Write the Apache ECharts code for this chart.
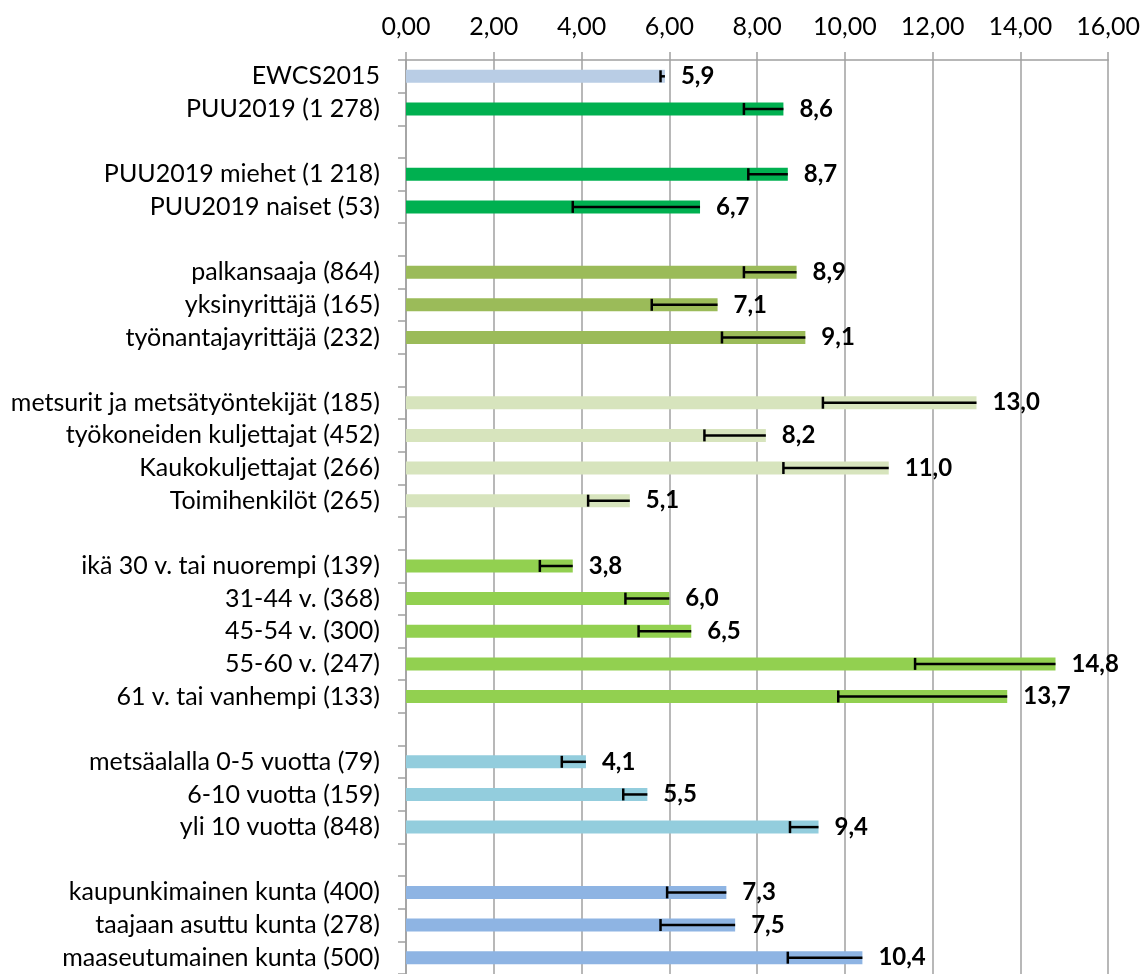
<!DOCTYPE html>
<html>
<head>
    <meta charset="utf-8">
    <title></title>
    <script src="https://cdn.jsdelivr.net/npm/echarts@6/dist/echarts.min.js"></script>
    <style>
        html, body { margin: 0; padding: 0; background: #fff; }
        #main { width: 1143px; height: 974px; }
    </style>
</head>
<body>
<div id="main"></div>
<script type="text/javascript">
    // categories (empty strings are the gaps between groups)
    var categories = [
        'EWCS2015', 'PUU2019 (1 278)', '',
        'PUU2019 miehet (1 218)', 'PUU2019 naiset (53)', '',
        'palkansaaja (864)', 'yksinyrittäjä (165)', 'työnantajayrittäjä (232)', '',
        'metsurit ja metsätyöntekijät (185)', 'työkoneiden kuljettajat (452)', 'Kaukokuljettajat (266)', 'Toimihenkilöt (265)', '',
        'ikä 30 v. tai nuorempi (139)', '31-44 v. (368)', '45-54 v. (300)', '55-60 v. (247)', '61 v. tai vanhempi (133)', '',
        'metsäalalla 0-5 vuotta (79)', '6-10 vuotta (159)', 'yli 10 vuotta (848)', '',
        'kaupunkimainen kunta (400)', 'taajaan asuttu kunta (278)', 'maaseutumainen kunta (500)'
    ];

    var values = [
        5.9, 8.6, null,
        8.7, 6.7, null,
        8.9, 7.1, 9.1, null,
        13.0, 8.2, 11.0, 5.1, null,
        3.8, 6.0, 6.5, 14.8, 13.7, null,
        4.1, 5.5, 9.4, null,
        7.3, 7.5, 10.4
    ];

    // lower end of the error bar
    var errLow = [
        5.8, 7.7, null,
        7.8, 3.8, null,
        7.7, 5.6, 7.2, null,
        9.5, 6.8, 8.6, 4.15, null,
        3.05, 5.0, 5.3, 11.6, 9.85, null,
        3.55, 4.95, 8.75, null,
        5.95, 5.8, 8.7
    ];

    var barColors = [
        '#b9cde5', '#00b050', null,
        '#00b050', '#00b050', null,
        '#9bbb59', '#9bbb59', '#9bbb59', null,
        '#d7e4bd', '#d7e4bd', '#d7e4bd', '#d7e4bd', null,
        '#92d050', '#92d050', '#92d050', '#92d050', '#92d050', null,
        '#93cddd', '#93cddd', '#93cddd', null,
        '#8eb4e3', '#8eb4e3', '#8eb4e3'
    ];

    var xTicks = [0, 2, 4, 6, 8, 10, 12, 14, 16];

    var fontName = 'Lato';

    var barData = values.map(function (v, i) {
        if (v === null) return null;
        return { value: v, itemStyle: { color: barColors[i] } };
    });
    var errData = [];
    values.forEach(function (v, i) {
        if (v !== null) errData.push([i, errLow[i], v]);
    });

    var myChart = echarts.init(document.getElementById('main'));

    var option = {
        backgroundColor: '#fff',
        animation: false,
        grid: {
            left: 406,
            top: 60,
            width: 703,
            height: 916
        },
        xAxis: {
            type: 'value',
            position: 'top',
            min: xTicks[0],
            max: xTicks[xTicks.length - 1],
            interval: 2,
            axisLine: { show: true, lineStyle: { color: '#a0a0a0', width: 1.5 } },
            axisTick: { show: true, length: 8, lineStyle: { color: '#a0a0a0', width: 1.5 } },
            splitLine: { show: true, lineStyle: { color: '#a0a0a0', width: 1.5 } },
            axisLabel: {
                margin: 21,
                color: '#000',
                fontFamily: fontName,
                fontSize: 25,
                formatter: function (v) { return v.toFixed(2).replace('.', ','); }
            }
        },
        yAxis: {
            type: 'category',
            inverse: true,
            data: categories,
            axisLine: { show: true, lineStyle: { color: '#a0a0a0', width: 1.5 } },
            axisTick: { show: true, length: 8, lineStyle: { color: '#a0a0a0', width: 1.5 } },
            axisLabel: {
                margin: 26,
                color: '#000',
                fontFamily: fontName,
                fontSize: 25,
                interval: 0
            }
        },
        series: [
            {
                type: 'bar',
                barWidth: 13,
                data: barData,
                label: {
                    show: true,
                    position: 'right',
                    distance: 16,
                    color: '#000',
                    fontFamily: fontName,
                    fontWeight: 'bold',
                    fontSize: 24,
                    formatter: function (p) { return p.value.toFixed(1).replace('.', ','); }
                }
            },
            {
                type: 'custom',
                z: 10,
                data: errData,
                encode: { x: [1, 2], y: 0 },
                renderItem: function (params, api) {
                    var idx = api.value(0);
                    var lo = api.coord([api.value(1), idx]);
                    var hi = api.coord([api.value(2), idx]);
                    var style = { stroke: '#000', lineWidth: 2.5 };
                    return {
                        type: 'group',
                        children: [
                            { type: 'line', shape: { x1: lo[0], y1: lo[1], x2: hi[0], y2: hi[1] }, style: style },
                            { type: 'line', shape: { x1: lo[0], y1: lo[1] - 6, x2: lo[0], y2: lo[1] + 6 }, style: style }
                        ]
                    };
                }
            }
        ]
    };

    myChart.setOption(option);
</script>
</body>
</html>
